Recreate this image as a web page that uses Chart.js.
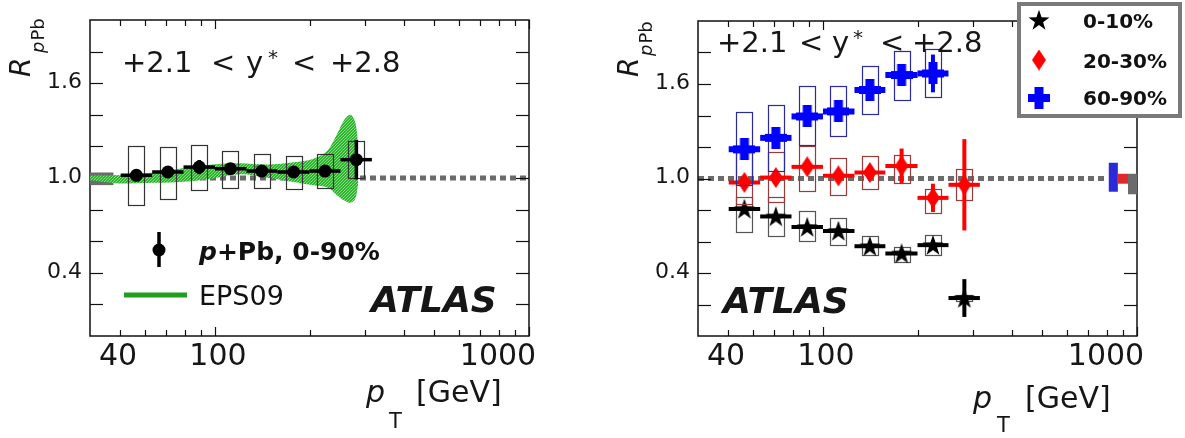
<!DOCTYPE html>
<html>
<head>
<meta charset="utf-8">
<script src="https://cdn.jsdelivr.net/npm/chart.js@4.4.1/dist/chart.umd.min.js"></script>
<style>
  html, body { margin: 0; padding: 0; background: #fff; }
  #wrap { position: relative; width: 1185px; height: 438px; overflow: hidden; }
  #left { position: absolute; left: 0; top: 0; }
  #right { position: absolute; left: 600px; top: 0; }
</style>
</head>
<body>
<div id="wrap">
  <canvas id="left" width="560" height="438"></canvas>
  <canvas id="right" width="585" height="438"></canvas>
</div>
<script>
// pT bins (GeV)
const ptCenters = [56.2, 70.8, 89.1, 112, 141, 178, 224, 282];
const ptLow     = [50.1, 63.1, 79.4, 100, 126, 158, 200, 251];
const ptHigh    = [63.1, 79.4, 100, 126, 158, 200, 251, 316];

// left panel: p+Pb 0-90%
const rAll     = [1.017, 1.038, 1.069, 1.059, 1.044, 1.038, 1.044, 1.116];
const statAll  = [0.02, 0.02, 0.045, 0.02, 0.02, 0.02, 0.035, 0.125];
const sysAllLo = [0.828, 0.866, 0.923, 0.937, 0.937, 0.929, 0.937, 1.0];
const sysAllHi = [1.201, 1.195, 1.21, 1.174, 1.153, 1.138, 1.149, 1.233];

// EPS09 band
const epsPt = [40, 48, 60, 77, 98, 120, 147, 178, 206, 228, 245, 257, 270, 280, 286];
const epsHi = [1.015, 1.017, 1.028, 1.059, 1.086, 1.094, 1.086, 1.10, 1.122, 1.174, 1.28, 1.363, 1.40, 1.35, 1.20];
const epsLo = [0.985, 0.967, 0.969, 0.975, 0.996, 1.023, 1.002, 0.975, 0.954, 0.94, 0.89, 0.86, 0.843, 0.87, 0.97];

// right panel: centrality bins
const r0010     = [0.807, 0.759, 0.692, 0.667, 0.570, 0.524, 0.577, 0.241];
const stat0010  = [0.025, 0.025, 0.025, 0.025, 0.025, 0.025, 0.03, 0.12];
const sys0010Lo = [0.66, 0.633, 0.602, 0.577, 0.514, 0.472, 0.514, 0.22];
const sys0010Hi = [0.88, 0.88, 0.792, 0.75, 0.633, 0.562, 0.64, 0.262];

const r2030     = [0.975, 1.006, 1.074, 1.017, 1.038, 1.08, 0.877, 0.96];
const stat2030  = [0.03, 0.03, 0.03, 0.03, 0.04, 0.11, 0.09, 0.29];
const sys2030Lo = [0.84, 0.85, 0.923, 0.897, 0.933, 0.97, 0.782, 0.864];
const sys2030Hi = [1.17, 1.17, 1.205, 1.128, 1.143, 1.15, 0.933, 1.059];

const r6090     = [1.185, 1.258, 1.394, 1.426, 1.562, 1.657, 1.667];
const stat6090  = [0.04, 0.04, 0.04, 0.04, 0.05, 0.07, 0.12];
const sys6090Lo = [0.96, 1.048, 1.212, 1.273, 1.411, 1.499, 1.52];
const sys6090Hi = [1.42, 1.468, 1.587, 1.587, 1.713, 1.808, 1.824];

// normalisation boxes [ptFrom, ptTo, lo, hi]
const normLeft  = [40, 47.5, 0.955, 1.035];
const normBlue  = [813, 869, 0.916, 1.10];
const normRed   = [869, 936, 0.967, 1.03];
const normGrey  = [936, 1000, 0.90, 1.03];

// axes
const yTickVals  = [0.2, 0.4, 0.6, 0.8, 1.0, 1.2, 1.4, 1.6, 1.8];
const yLabelVals = [0.4, 1.0, 1.6];
const xTickVals  = [50, 60, 70, 80, 90, 100, 200, 300, 400, 500, 600, 700, 800, 900, 1000];
const xMajorVals = [100, 1000];
const xLabelVals = [40, 100, 1000];
const xLabelShift = [28, 3, -31];

const FONT = "'DejaVu Sans', sans-serif";
const BOX_HALF = 1.06;

// marker images
function makeStar() {
  const c = document.createElement('canvas'); c.width = 22; c.height = 22;
  const g = c.getContext('2d');
  g.fillStyle = '#000'; g.beginPath();
  for (let i = 0; i < 10; i++) {
    const r = i % 2 ? 4.3 : 11, a = -Math.PI / 2 + i * Math.PI / 5;
    g.lineTo(11 + r * Math.cos(a), 11.8 + r * Math.sin(a));
  }
  g.closePath(); g.fill();
  return c;
}
function makeDiamond() {
  const c = document.createElement('canvas'); c.width = 14; c.height = 21;
  const g = c.getContext('2d');
  g.fillStyle = '#ff0000'; g.beginPath();
  g.moveTo(7, 0); g.lineTo(14, 10.5); g.lineTo(7, 21); g.lineTo(0, 10.5); g.closePath(); g.fill();
  return c;
}
function makeCross() {
  const c = document.createElement('canvas'); c.width = 22; c.height = 22;
  const g = c.getContext('2d');
  g.fillStyle = '#0000ff';
  g.fillRect(6.5, 0, 9, 22); g.fillRect(0, 7, 22, 8);
  return c;
}
const starImg = makeStar(), diamondImg = makeDiamond(), crossImg = makeCross();

function greenPattern(ctx) {
  const c = document.createElement('canvas'); c.width = 3; c.height = 3;
  const g = c.getContext('2d');
  g.fillStyle = '#2db52d'; g.fillRect(0, 0, 3, 3);
  g.fillStyle = '#86da86'; g.fillRect(0, 0, 1, 1); g.fillRect(2, 1, 1, 1); g.fillRect(1, 2, 1, 1);
  return ctx.createPattern(c, 'repeat');
}

function line(ctx, x1, y1, x2, y2) { ctx.beginPath(); ctx.moveTo(x1, y1); ctx.lineTo(x2, y2); ctx.stroke(); }

function fillBox(chart, b, color) {
  const { ctx, scales: { x, y } } = chart;
  const l = x.getPixelForValue(b[0]), r = x.getPixelForValue(b[1]);
  const t = y.getPixelForValue(b[3]), bo = y.getPixelForValue(b[2]);
  ctx.fillStyle = color; ctx.fillRect(l, t, r - l, bo - t);
}

function drawFrame(chart, dashTo) {
  const { ctx, chartArea: a, scales: { x, y } } = chart;
  ctx.save();
  // reference line at 1
  ctx.strokeStyle = '#6b6b6b'; ctx.lineWidth = 5; ctx.setLineDash([6, 4]);
  const py1 = y.getPixelForValue(1.0);
  line(ctx, a.left, py1, x.getPixelForValue(dashTo), py1);
  ctx.setLineDash([]);
  ctx.strokeStyle = '#111'; ctx.lineWidth = 1.5;
  ctx.strokeRect(a.left, a.top, a.right - a.left, a.bottom - a.top);
  ctx.lineWidth = 1.2;
  yTickVals.forEach(v => {
    const p = Math.round(y.getPixelForValue(v)) + 0.5;
    line(ctx, a.left, p, a.left + 13, p);
    line(ctx, a.right - 13, p, a.right, p);
  });
  xTickVals.forEach(v => {
    const p = Math.round(x.getPixelForValue(v)) + 0.5;
    const len = xMajorVals.includes(v) ? 9 : 6;
    line(ctx, p, a.bottom, p, a.bottom - len);
    line(ctx, p, a.top, p, a.top + len);
  });
  ctx.restore();
}

function drawErr(chart, ds) {
  const { ctx, scales: { x, y } } = chart;
  ctx.save();
  ds.data.forEach((d, i) => {
    const px = x.getPixelForValue(d.x), py = y.getPixelForValue(d.y);
    const bl = Math.round(x.getPixelForValue(d.x / BOX_HALF)), br = Math.round(x.getPixelForValue(d.x * BOX_HALF));
    const bt = Math.round(y.getPixelForValue(ds.sysHi[i])), bb = Math.round(y.getPixelForValue(ds.sysLo[i]));
    ctx.strokeStyle = ds.boxColor; ctx.lineWidth = 1.2;
    ctx.strokeRect(bl + 0.5, bt + 0.5, br - bl, bb - bt);
    ctx.strokeStyle = ds.barColor;
    ctx.lineWidth = ds.hBarW;
    line(ctx, x.getPixelForValue(ptLow[i]), py, x.getPixelForValue(ptHigh[i]), py);
    ctx.lineWidth = ds.vBarW;
    line(ctx, px, y.getPixelForValue(d.y + ds.stat[i]), px, y.getPixelForValue(d.y - ds.stat[i]));
  });
  ctx.restore();
}

function drawAxisText(chart, t) {
  const { ctx, chartArea: a, scales: { x, y } } = chart;
  ctx.save();
  ctx.fillStyle = '#161616';
  // y labels
  ctx.font = '22px ' + FONT; ctx.textAlign = 'right'; ctx.textBaseline = 'middle';
  yLabelVals.forEach(v => ctx.fillText(v.toFixed(1), a.left - 8, y.getPixelForValue(v) - 1));
  // x labels
  ctx.font = '30px ' + FONT; ctx.textAlign = 'center'; ctx.textBaseline = 'alphabetic';
  xLabelVals.forEach((v, i) => ctx.fillText(String(v), x.getPixelForValue(v) + xLabelShift[i], 365));
  // x title
  ctx.textAlign = 'left';
  ctx.font = 'italic 30px ' + FONT; ctx.fillText('p', t.px, t.pBase);
  ctx.font = '21px ' + FONT; ctx.fillText('T', t.tx, t.tBase);
  ctx.font = '30px ' + FONT; ctx.fillText('[GeV]', t.gx, t.gBase);
  // y title
  ctx.save();
  ctx.translate(t.rx, 77); ctx.rotate(-Math.PI / 2);
  ctx.font = 'italic 28px ' + FONT; ctx.fillText('R', 0, 0);
  ctx.restore();
  ctx.save();
  ctx.translate(t.sx, t.sy); ctx.rotate(-Math.PI / 2);
  ctx.font = 'italic 18px ' + FONT; ctx.fillText('p', 0, 0);
  const w = ctx.measureText('p').width;
  ctx.font = '18px ' + FONT; ctx.fillText('Pb', w + 1, 0);
  ctx.restore();
  // rapidity text
  t.title.forEach(p => {
    ctx.font = (p.sup ? '20px ' : '29px ') + FONT;
    ctx.fillText(p.s, p.x, p.sup ? t.titleBase - 8 : t.titleBase);
  });
  // ATLAS
  ctx.font = 'italic bold 36px ' + FONT;
  ctx.fillText('ATLAS', t.ax, t.ay);
  ctx.restore();
}

const panelPlugin = {
  id: 'panel',
  beforeDatasetsDraw(chart, args, opts) {
    drawFrame(chart, opts.dashTo);
    (opts.norm || []).forEach(n => fillBox(chart, n[0], n[1]));
  },
  beforeDatasetDraw(chart, args) {
    const ds = chart.data.datasets[args.index];
    if (ds.stat) drawErr(chart, ds);
  },
  afterDraw(chart, args, opts) {
    drawAxisText(chart, opts.text);
    if (opts.legend) opts.legend(chart.ctx);
  }
};

function scalesCfg() {
  return {
    x: { type: 'logarithmic', min: 40, max: 1000, display: false },
    y: { type: 'linear', min: 0, max: 2, display: false }
  };
}

function pts(rs) { return rs.map((r, i) => ({ x: ptCenters[i], y: r })); }

// ---------- left chart ----------
const leftCtx = document.getElementById('left').getContext('2d');
new Chart(leftCtx, {
  type: 'scatter',
  data: {
    datasets: [
      {
        data: pts(rAll), pointStyle: 'circle', pointRadius: 6.5, pointBackgroundColor: '#000',
        pointBorderWidth: 0, order: 0,
        stat: statAll, sysLo: sysAllLo, sysHi: sysAllHi,
        barColor: '#000', boxColor: '#333', hBarW: 3.5, vBarW: 3.5
      },
      {
        data: epsPt.map((p, i) => ({ x: p, y: epsHi[i] })), showLine: true, pointRadius: 0,
        borderWidth: 0, tension: 0.35, fill: false, order: 1
      },
      {
        data: epsPt.map((p, i) => ({ x: p, y: epsLo[i] })), showLine: true, pointRadius: 0,
        borderWidth: 0, tension: 0.35, fill: '-1', backgroundColor: greenPattern(leftCtx), order: 1
      }
    ]
  },
  options: {
    responsive: false, animation: false,
    layout: { padding: { left: 90, right: 31, top: 20, bottom: 102 } },
    scales: scalesCfg(),
    plugins: {
      legend: { display: false }, tooltip: { enabled: false },
      panel: {
        dashTo: 1000,
        norm: [[normLeft, '#6b6b6b']],
        text: {
          px: 366, pBase: 402, tx: 389, tBase: 428, gx: 416, gBase: 402,
          rx: 30, sx: 44, sy: 53,
          titleBase: 72,
          title: [{ s: '+2.1', x: 122 }, { s: '<', x: 211 }, { s: 'y', x: 246 }, { s: '*', x: 268, sup: true },
                  { s: '<', x: 292 }, { s: '+2.8', x: 330 }],
          ax: 371, ay: 312
        },
        legend(ctx) {
          ctx.save();
          ctx.strokeStyle = '#000'; ctx.lineWidth = 3.5;
          line(ctx, 159, 232, 159, 267);
          ctx.fillStyle = '#000'; ctx.beginPath(); ctx.arc(159, 250, 6.5, 0, Math.PI * 2); ctx.fill();
          ctx.fillStyle = '#111';
          ctx.font = 'italic bold 25px ' + FONT; ctx.fillText('p', 199, 260);
          const w = ctx.measureText('p').width;
          ctx.font = 'bold 25px ' + FONT; ctx.fillText('+Pb, 0-90%', 199 + w, 260);
          ctx.strokeStyle = '#1f9e1f'; ctx.lineWidth = 5;
          line(ctx, 124, 295, 187, 295);
          ctx.font = '27px ' + FONT; ctx.fillText('EPS09', 199, 305);
          ctx.restore();
        }
      }
    }
  },
  plugins: [panelPlugin]
});

// ---------- right chart ----------
new Chart(document.getElementById('right'), {
  type: 'scatter',
  data: {
    datasets: [
      {
        data: pts(r6090), pointStyle: crossImg, order: 0,
        stat: stat6090, sysLo: sys6090Lo, sysHi: sys6090Hi,
        barColor: '#0000ff', boxColor: '#2b2b9a', hBarW: 6, vBarW: 4
      },
      {
        data: pts(r2030), pointStyle: diamondImg, order: 0,
        stat: stat2030, sysLo: sys2030Lo, sysHi: sys2030Hi,
        barColor: '#ff0000', boxColor: '#9a3b3b', hBarW: 4, vBarW: 4
      },
      {
        data: pts(r0010), pointStyle: starImg, order: 0,
        stat: stat0010, sysLo: sys0010Lo, sysHi: sys0010Hi,
        barColor: '#000', boxColor: '#555', hBarW: 4, vBarW: 4
      }
    ]
  },
  options: {
    responsive: false, animation: false,
    layout: { padding: { left: 98, right: 48, top: 21, bottom: 102 } },
    scales: scalesCfg(),
    plugins: {
      legend: { display: false }, tooltip: { enabled: false },
      panel: {
        dashTo: 790,
        norm: [[normBlue, '#2a2ad8'], [normRed, '#e02a2a'], [normGrey, '#6b6b6b']],
        text: {
          px: 373, pBase: 408, tx: 397, tBase: 432, gx: 425, gBase: 408,
          rx: 38, sx: 52, sy: 56,
          titleBase: 52,
          title: [{ s: '+2.1', x: 117 }, { s: '<', x: 199 }, { s: 'y', x: 232 }, { s: '*', x: 253, sup: true },
                  { s: '<', x: 280 }, { s: '+2.8', x: 312 }],
          ax: 123, ay: 313
        },
        legend(ctx) {
          ctx.save();
          ctx.fillStyle = '#fff'; ctx.fillRect(417, 2, 165, 116);
          ctx.strokeStyle = '#7a7a7a'; ctx.lineWidth = 4;
          ctx.strokeRect(419, 4, 161, 112);
          ctx.drawImage(starImg, 439 - 11, 20 - 11);
          ctx.drawImage(diamondImg, 439 - 7, 60 - 10.5);
          ctx.drawImage(crossImg, 439 - 11, 98 - 11);
          ctx.fillStyle = '#111'; ctx.font = 'bold 20px ' + FONT;
          ctx.fillText('0-10%', 483, 28);
          ctx.fillText('20-30%', 483, 68);
          ctx.fillText('60-90%', 483, 105);
          ctx.restore();
        }
      }
    }
  },
  plugins: [panelPlugin]
});
</script>
</body>
</html>
